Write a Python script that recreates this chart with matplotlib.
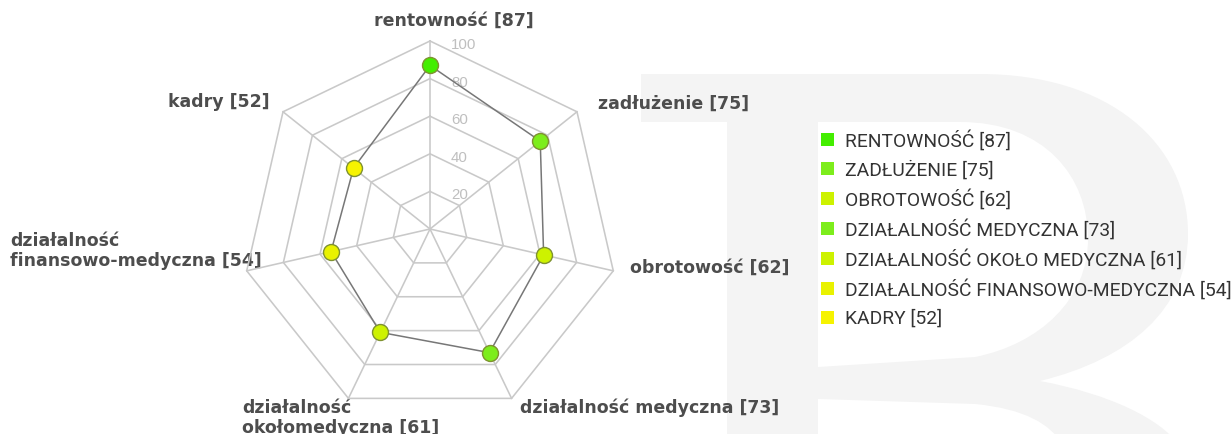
import numpy as np
import matplotlib

matplotlib.use("Agg")
import matplotlib.pyplot as plt
from matplotlib.path import Path
from matplotlib.patches import PathPatch, Rectangle

# data, clockwise from the top
categories = [
    "rentowność",
    "zadłużenie",
    "obrotowość",
    "działalność medyczna",
    "działalność\nokołomedyczna",
    "działalność\nfinansowo-medyczna",
    "kadry",
]
values = [87, 75, 62, 73, 61, 54, 52]
point_colors = ["#44ee00", "#7ded1c", "#cdf200", "#7ded1c", "#cdf200", "#e9f200", "#f6f300"]
legend_names = [
    "RENTOWNOŚĆ",
    "ZADŁUŻENIE",
    "OBROTOWOŚĆ",
    "DZIAŁALNOŚĆ MEDYCZNA",
    "DZIAŁALNOŚĆ OKOŁO MEDYCZNA",
    "DZIAŁALNOŚĆ FINANSOWO-MEDYCZNA",
    "KADRY",
]
ring_ticks = [20, 40, 60, 80, 100]

W, H = 1231, 435
fig = plt.figure(figsize=(W / 100, H / 100), dpi=100)
fig.patch.set_facecolor("white")

# background axes in pixel units (y down) for watermark, labels and legend
bg = fig.add_axes([0, 0, 1, 1], zorder=0)
bg.set_xlim(0, W)
bg.set_ylim(H, 0)
bg.axis("off")

# faint "B" watermark
wm = "#f4f4f4"
outer = Path(
    [(641, 75), (980, 75),
     (1110, 75), (1188, 145), (1188, 235),
     (1188, 310), (1130, 360), (1040, 382),
     (1110, 395), (1160, 420), (1178, 445),
     (727, 445), (727, 123), (641, 123), (641, 75)],
    [Path.MOVETO, Path.LINETO,
     Path.CURVE4, Path.CURVE4, Path.CURVE4,
     Path.CURVE4, Path.CURVE4, Path.CURVE4,
     Path.CURVE4, Path.CURVE4, Path.CURVE4,
     Path.LINETO, Path.LINETO, Path.LINETO, Path.CLOSEPOLY],
)
upper_hole = Path(
    [(818, 123), (960, 123),
     (1045, 123), (1088, 178), (1088, 240),
     (1088, 300), (1040, 345), (975, 358),
     (818, 368), (818, 123)],
    [Path.MOVETO, Path.LINETO,
     Path.CURVE4, Path.CURVE4, Path.CURVE4,
     Path.CURVE4, Path.CURVE4, Path.CURVE4,
     Path.LINETO, Path.CLOSEPOLY],
)
lower_hole = Path(
    [(818, 400), (975, 405),
     (1025, 410), (1050, 425), (1062, 445),
     (818, 445), (818, 400)],
    [Path.MOVETO, Path.LINETO,
     Path.CURVE4, Path.CURVE4, Path.CURVE4,
     Path.LINETO, Path.CLOSEPOLY],
)
bg.add_patch(PathPatch(outer, facecolor=wm, edgecolor="none", zorder=0))
bg.add_patch(PathPatch(upper_hole, facecolor="white", edgecolor="none", zorder=1))
bg.add_patch(PathPatch(lower_hole, facecolor="white", edgecolor="none", zorder=1))

# radar
cx, cy, rad = 430, 230, 188
ax = fig.add_axes([(cx - rad) / W, (H - cy - rad) / H, 2 * rad / W, 2 * rad / H],
                  projection="polar", zorder=2)
ax.set_facecolor("none")
ax.set_theta_zero_location("N")
ax.set_theta_direction(-1)
ax.set_ylim(0, 100)
ax.axis("off")

n = len(values)
theta = np.linspace(0, 2 * np.pi, n, endpoint=False)
closed = np.append(theta, theta[0])

grid_c = "#c9c9c9"
for r in ring_ticks:
    ax.plot(closed, [r] * (n + 1), color=grid_c, lw=1.15, clip_on=False, zorder=1)
for t in theta:
    ax.plot([t, t], [0, 100], color=grid_c, lw=1.15, clip_on=False, zorder=1)
for r in ring_ticks:
    ax.annotate(str(r), xy=(0, r), xytext=(21, -3), textcoords="offset pixels",
                ha="left", va="center", fontsize=10.8, color="#bfbfbf",
                family="Liberation Sans", zorder=2)

ax.plot(closed, values + values[:1], color="#777777", lw=1.1, clip_on=False, zorder=3)
for t, v, c in zip(theta, values, point_colors):
    ax.plot([t], [v], marker="o", ms=11.5, mfc=c, mec="#7f9230", mew=1.0,
            clip_on=False, zorder=4)

# axis labels
label_pos = [
    (454, 21, "center"),
    (598, 104, "left"),
    (630, 268, "left"),
    (520, 408, "left"),
    (242, 418, "left"),
    (10, 251, "left"),
    (270, 102, "right"),
]
axis_texts = []
for name, v, (x, y, ha) in zip(categories, values, label_pos):
    t = bg.text(x, y, "%s [%d]" % (name, v), ha=ha, va="center", fontsize=12,
                fontweight="bold", color="#4d4d4d", family="DejaVu Sans",
                linespacing=1.15, zorder=5)
    axis_texts.append(t)

# legend
leg_texts = []
for i, (name, v, c) in enumerate(zip(legend_names, values, point_colors)):
    y = 140 + 29.8 * i
    bg.add_patch(Rectangle((821, y - 6.5), 13, 13, facecolor=c, edgecolor="none", zorder=5))
    t = bg.text(845, y, "%s [%d]" % (name, v), ha="left", va="center", fontsize=12,
                color="#333333", family="Roboto", zorder=5)
    leg_texts.append(t)

# scale fonts to the widths seen in the picture
renderer = fig.canvas.get_renderer()
k = 385 / leg_texts[5].get_window_extent(renderer).width
for t in leg_texts:
    t.set_fontsize(t.get_fontsize() * k)
k = 151 / axis_texts[1].get_window_extent(renderer).width
for t in axis_texts:
    t.set_fontsize(t.get_fontsize() * k)

fig.savefig("out.png", dpi=100, facecolor="white")
